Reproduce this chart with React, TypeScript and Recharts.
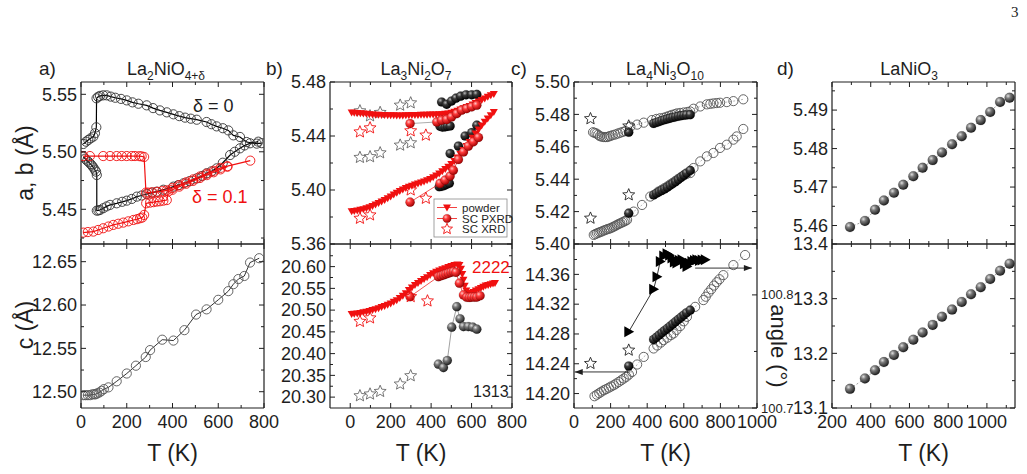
import React from "react";
import { ScatterChart, Scatter, XAxis, YAxis } from "recharts";

// colours
const INK = "#1e1e1e";
const RED = "#f01010";

// ---------- data: [T (K), value] ----------

// a) La2NiO4+d, delta = 0 (black)
const a0Upper = [
  [10, 5.5068], [22, 5.5088], [32, 5.5103], [42, 5.5117], [54, 5.5132], [61, 5.5161], [67, 5.5213],
  [68, 5.5465], [75, 5.5478], [83, 5.5486], [97, 5.5491], [112, 5.5491], [130, 5.548], [150, 5.547],
  [175, 5.546], [200, 5.5447], [225, 5.543], [251, 5.5418], [287, 5.5404], [315, 5.538], [345, 5.536],
  [375, 5.5343], [404, 5.5326], [430, 5.531], [455, 5.5297], [480, 5.5288], [506, 5.5279], [549, 5.5259],
  [570, 5.524], [593, 5.5221], [620, 5.5205], [644, 5.5186], [666, 5.5143], [695, 5.5129], [724, 5.5085],
  [768, 5.5071], [790, 5.5075],
];
const a0Lower = [
  [10, 5.4957], [18, 5.494], [27, 5.4922], [35, 5.4908], [42, 5.4893], [48, 5.488], [54, 5.4864],
  [60, 5.4845], [66, 5.4827], [69, 5.4798], [69, 5.4488], [76, 5.449], [83, 5.4494], [97, 5.4509],
  [112, 5.4525], [127, 5.4538], [156, 5.4552], [180, 5.4565], [200, 5.4575], [222, 5.459], [244, 5.461],
  [265, 5.462], [287, 5.4633], [310, 5.4645], [331, 5.4653], [360, 5.467], [404, 5.4697], [425, 5.471],
  [448, 5.4726], [475, 5.4745], [506, 5.4769], [530, 5.479], [549, 5.4813], [570, 5.483], [593, 5.4856],
  [620, 5.4905], [652, 5.4972], [672, 5.5], [695, 5.503], [715, 5.5055], [739, 5.5074], [775, 5.5088],
];
// a) delta = 0.1 (red)
const a1Upper = [
  [10, 5.4963], [39, 5.4963], [97, 5.4963], [127, 5.4963], [156, 5.4963], [178, 5.4963], [200, 5.4963],
  [222, 5.4963], [236, 5.4963], [255, 5.4962], [265, 5.496], [276, 5.4955], [284, 5.4645], [295, 5.4645],
  [312, 5.4648], [334, 5.4652], [356, 5.4658], [375, 5.4665], [400, 5.4685], [430, 5.471], [460, 5.4735],
  [490, 5.476], [520, 5.4785], [550, 5.481], [580, 5.4835], [610, 5.486], [640, 5.4875], [740, 5.4923],
];
const a1Lower = [
  [10, 5.4297], [30, 5.4302], [54, 5.4306], [75, 5.432], [97, 5.4335], [120, 5.435], [141, 5.4364],
  [163, 5.4374], [185, 5.4384], [207, 5.4395], [229, 5.4407], [245, 5.4414], [258, 5.4422], [268, 5.4428],
  [276, 5.4451], [285, 5.4552], [302, 5.4558], [317, 5.4562], [331, 5.4567], [345, 5.457], [360, 5.4575],
  [375, 5.458], [382, 5.4655], [400, 5.467], [430, 5.4697], [460, 5.4722], [490, 5.4747], [520, 5.4772],
  [550, 5.4797], [580, 5.4822], [610, 5.4847], [640, 5.487],
];
const aC = [
  [10, 12.496], [20, 12.496], [30, 12.496], [40, 12.496], [50, 12.497], [58, 12.497], [64, 12.497],
  [70, 12.498], [80, 12.499], [90, 12.501], [100, 12.503], [120, 12.505], [156, 12.512], [200, 12.521],
  [240, 12.53], [283, 12.54], [302, 12.548], [355, 12.56], [404, 12.559], [452, 12.571], [503, 12.589],
  [549, 12.595], [600, 12.606], [644, 12.616], [666, 12.624], [688, 12.63], [714, 12.6335], [739, 12.649],
  [779, 12.654],
];

// b) La3Ni2O7
const bPowderA = [
  [7, 5.4575], [20, 5.4572], [35, 5.457], [50, 5.4568], [65, 5.4566], [80, 5.4564], [95, 5.4562],
  [110, 5.456], [125, 5.4558], [140, 5.4557], [155, 5.4556], [170, 5.4555], [185, 5.4554], [200, 5.4553],
  [215, 5.4553], [230, 5.4552], [245, 5.4552], [260, 5.4552], [275, 5.4553], [290, 5.4554], [305, 5.4555],
  [320, 5.4555], [335, 5.4556], [350, 5.4557], [365, 5.4557], [380, 5.4558], [395, 5.4559], [410, 5.456],
  [425, 5.456], [440, 5.4561], [455, 5.4562], [470, 5.4564], [485, 5.4567], [500, 5.4572], [515, 5.4579],
  [530, 5.4587], [545, 5.4596], [560, 5.4605], [575, 5.4614], [590, 5.4623], [605, 5.4633], [620, 5.4644],
  [635, 5.4655], [650, 5.4666], [665, 5.4678], [680, 5.469], [695, 5.4701], [710, 5.4712],
];
const bPowderB = [
  [7, 5.3842], [20, 5.3845], [35, 5.3849], [50, 5.3853], [65, 5.3858], [80, 5.3865], [95, 5.3873],
  [110, 5.3882], [125, 5.3892], [140, 5.3903], [155, 5.3914], [170, 5.3926], [185, 5.3939], [200, 5.3952],
  [215, 5.3966], [230, 5.3979], [245, 5.3992], [260, 5.4004], [275, 5.4015], [290, 5.4024], [305, 5.4032],
  [320, 5.404], [335, 5.4048], [350, 5.4055], [365, 5.4063], [380, 5.4072], [395, 5.4082], [410, 5.4094],
  [425, 5.4108], [440, 5.4122], [455, 5.4138], [470, 5.4155], [485, 5.4172], [500, 5.4192], [515, 5.4215],
  [530, 5.424], [545, 5.4267], [560, 5.4296], [575, 5.4326], [590, 5.4356], [605, 5.4387], [620, 5.4418],
  [635, 5.4449], [650, 5.4478], [665, 5.4505], [680, 5.4529], [695, 5.4553], [710, 5.4577],
];
const bPowderC = [
  [7, 20.491], [20, 20.4915], [35, 20.4925], [50, 20.4935], [65, 20.495], [80, 20.4965], [95, 20.498],
  [110, 20.5], [125, 20.502], [140, 20.5045], [155, 20.507], [170, 20.5095], [185, 20.5125], [200, 20.5155],
  [215, 20.519], [230, 20.5225], [245, 20.528], [260, 20.533], [275, 20.5385], [290, 20.546], [305, 20.552],
  [320, 20.5575], [335, 20.5625], [350, 20.567], [365, 20.5715], [380, 20.5755], [395, 20.5805],
  [410, 20.5845], [425, 20.588], [440, 20.591], [455, 20.594], [470, 20.5965], [485, 20.599], [500, 20.6015],
  [515, 20.6035], [530, 20.605], [540, 20.604], [548, 20.595], [554, 20.583], [560, 20.57], [566, 20.556],
  [574, 20.545], [584, 20.539], [597, 20.5395], [609, 20.5415], [621, 20.545], [634, 20.548], [646, 20.551],
  [658, 20.554], [670, 20.5565], [682, 20.558], [694, 20.5595], [706, 20.561], [716, 20.5625],
];
const bPxrdA = [
  [296, 5.4492], [428, 5.4504], [452, 5.4517], [477, 5.4522], [501, 5.4541], [527, 5.4566], [551, 5.4591],
  [576, 5.4603], [601, 5.4616], [626, 5.4628],
];
const bPxrdB = [
  [296, 5.391], [444, 5.4049], [469, 5.4073], [494, 5.4103], [510, 5.4147], [535, 5.4226], [560, 5.4282],
  [584, 5.4325], [609, 5.4357], [634, 5.4389],
];
const bPxrdC = [
  [296, 20.531], [436, 20.577], [449, 20.579], [461, 20.581], [473, 20.583], [485, 20.585], [498, 20.587],
  [510, 20.5885], [523, 20.587], [540, 20.562], [560, 20.535], [576, 20.5297], [589, 20.529], [601, 20.53],
  [614, 20.53], [626, 20.53], [642, 20.533],
];
const bBlackA = [
  [452, 5.4652], [477, 5.4635], [501, 5.4659], [523, 5.468], [546, 5.4695], [573, 5.4705], [601, 5.4705],
  [626, 5.4708], [444, 5.4472], [456, 5.4466], [469, 5.4468], [481, 5.4472], [494, 5.4474],
];
const bBlackB = [
  [440, 5.4024], [452, 5.4027], [465, 5.4033], [477, 5.4042], [490, 5.405], [494, 5.427], [535, 5.4325],
  [568, 5.44], [601, 5.4425], [626, 5.448],
];
const bBlackC = [
  [436, 20.3757], [461, 20.368], [480, 20.384], [502, 20.4608], [527, 20.508], [543, 20.48], [560, 20.4622],
  [584, 20.4622], [606, 20.4608], [626, 20.4562],
];
const bStarRedA = [[48, 5.443], [98, 5.446], [299, 5.4438], [374, 5.4406]];
const bStarRedB = [[48, 5.379], [98, 5.3815], [299, 5.4], [374, 5.3938]];
const bStarGrayA = [[48, 5.4586], [98, 5.4549], [148, 5.4574], [247, 5.4628], [299, 5.4645]];
const bStarGrayB = [[48, 5.4241], [98, 5.4246], [148, 5.4275], [247, 5.4332], [299, 5.4349]];
const bStarRedC = [[48, 20.474], [98, 20.482], [299, 20.531], [382, 20.521]];
const bStarGrayC = [[48, 20.303], [98, 20.307], [148, 20.313], [247, 20.33], [299, 20.349]];

// c) La4Ni3O10
const cOpenA = [
  [104, 5.469], [113, 5.4686], [123, 5.4682], [132, 5.4674], [141, 5.4666], [152, 5.4662], [163, 5.466],
  [172, 5.466], [181, 5.466], [190, 5.4664], [199, 5.4667], [212, 5.4672], [226, 5.4676], [240, 5.4682],
  [253, 5.4687], [267, 5.4692], [281, 5.4697], [308, 5.4724], [345, 5.4737], [381, 5.4749], [426, 5.4765],
  [450, 5.4772], [470, 5.4776], [490, 5.4779], [505, 5.4785], [520, 5.4791], [535, 5.4797], [550, 5.4801],
  [562, 5.4806], [580, 5.4809], [600, 5.4812], [620, 5.4815], [635, 5.4818], [653, 5.4835], [690, 5.4849],
  [726, 5.4862], [745, 5.4865], [762, 5.4868], [780, 5.487], [798, 5.4872], [835, 5.4876], [871, 5.4882],
  [925, 5.4893],
];
const cOpenB = [
  [108, 5.4056], [117, 5.4061], [126, 5.4066], [135, 5.407], [144, 5.4074], [153, 5.4078], [163, 5.4083],
  [172, 5.4087], [181, 5.4091], [190, 5.4094], [199, 5.4097], [208, 5.4102], [217, 5.4107], [226, 5.4112],
  [235, 5.4118], [244, 5.4123], [253, 5.4128], [263, 5.4133], [272, 5.4138], [281, 5.4143], [290, 5.4149],
  [326, 5.42], [372, 5.4241], [417, 5.4293], [462, 5.4324], [480, 5.4335], [495, 5.4345], [510, 5.4355],
  [525, 5.4367], [540, 5.4378], [555, 5.439], [570, 5.4402], [585, 5.4413], [600, 5.4424], [615, 5.4432],
  [635, 5.4438], [653, 5.4469], [690, 5.451], [726, 5.4541], [762, 5.4562], [798, 5.4593], [835, 5.4613],
  [871, 5.4644], [889, 5.4664], [925, 5.471],
];
const cSphA = [
  [299, 5.469], [435, 5.4744], [450, 5.475], [465, 5.4756], [480, 5.4762], [495, 5.4767], [510, 5.4772],
  [525, 5.4777], [540, 5.4781], [555, 5.4785], [570, 5.4789], [585, 5.4792], [600, 5.4795], [615, 5.4797],
  [635, 5.4798],
];
const cSphB = [
  [299, 5.419], [435, 5.4303], [450, 5.4313], [465, 5.4322], [480, 5.4331], [495, 5.434], [510, 5.4351],
  [525, 5.4362], [540, 5.4373], [555, 5.4385], [570, 5.4398], [585, 5.4412], [600, 5.4425], [615, 5.4438],
  [635, 5.4454],
];
const cStarA = [[90, 5.4773], [299, 5.4728]];
const cStarB = [[90, 5.4159], [299, 5.4303]];
const cOpenC = [
  [112, 14.1964], [125, 14.1985], [138, 14.2005], [150, 14.2025], [163, 14.2044], [176, 14.206],
  [190, 14.2078], [203, 14.2095], [217, 14.2112], [230, 14.2133], [244, 14.2155], [258, 14.2178],
  [272, 14.2202], [286, 14.2225], [300, 14.2255], [317, 14.229], [345, 14.239], [381, 14.2492],
  [435, 14.2605], [455, 14.2645], [475, 14.2685], [490, 14.2717], [510, 14.275], [530, 14.2785],
  [544, 14.2807], [560, 14.2855], [580, 14.2905], [600, 14.297], [617, 14.303], [662, 14.3164],
  [707, 14.3255], [720, 14.33], [735, 14.3355], [750, 14.34], [765, 14.345], [780, 14.3495], [795, 14.3535],
  [816, 14.359], [871, 14.3725], [935, 14.386],
];
const cSphC = [
  [299, 14.237], [435, 14.2725], [450, 14.2755], [465, 14.2785], [480, 14.2815], [495, 14.2845],
  [510, 14.2875], [525, 14.2905], [540, 14.2935], [555, 14.2965], [570, 14.2995], [585, 14.3025],
  [600, 14.3055], [615, 14.3085], [635, 14.312],
];
const cStarC = [[90, 14.2403], [299, 14.2582]];
const cAngle = [
  [299, 100.7674], [435, 100.805], [453, 100.816], [471, 100.8296], [490, 100.8345], [508, 100.8364],
  [522, 100.835], [535, 100.8326], [548, 100.829], [562, 100.8282], [576, 100.8305], [590, 100.831],
  [603, 100.8275], [617, 100.8252], [630, 100.828], [644, 100.8296], [658, 100.8305], [671, 100.8311],
  [685, 100.8305], [700, 100.8308], [717, 100.8311],
];
const cArrowLeft = [[308, 14.229], [4, 14.229]];
const cArrowRight = [[662, 100.8237], [972, 100.8237]];

// d) LaNiO3
const dA = [
  [293, 5.4596], [370, 5.4612], [422, 5.4641], [468, 5.4665], [520, 5.4685], [568, 5.4706], [620, 5.4728],
  [668, 5.475], [720, 5.477], [768, 5.479], [820, 5.4811], [870, 5.4832], [918, 5.4854], [968, 5.4874],
  [1017, 5.4895], [1068, 5.4921], [1117, 5.4932],
];
const dC = [
  [293, 13.135], [370, 13.154], [422, 13.169], [468, 13.184], [520, 13.197], [568, 13.211], [620, 13.225],
  [668, 13.238], [720, 13.252], [768, 13.267], [820, 13.28], [870, 13.294], [918, 13.308], [968, 13.321],
  [1017, 13.336], [1068, 13.351], [1117, 13.364],
];

// ---------- ticks ----------
const aXTicks = [0, 100, 200, 300, 400, 500, 600, 700, 800];
const bXTicks = [0, 100, 200, 300, 400, 500, 600, 700, 800];
const cXTicks = [0, 100, 200, 300, 400, 500, 600, 700, 800, 900, 1000];
const dXTicks = [200, 300, 400, 500, 600, 700, 800, 900, 1000, 1100];
const aTopTicks = [5.425, 5.45, 5.475, 5.5, 5.525, 5.55];
const aBotTicks = [12.5, 12.525, 12.55, 12.575, 12.6, 12.625, 12.65];
const bTopTicks = [5.36, 5.38, 5.4, 5.42, 5.44, 5.46, 5.48];
const bBotTicks = [20.3, 20.325, 20.35, 20.375, 20.4, 20.425, 20.45, 20.475, 20.5, 20.525, 20.55, 20.575, 20.6, 20.625];
const cTopTicks = [5.4, 5.41, 5.42, 5.43, 5.44, 5.45, 5.46, 5.47, 5.48, 5.49, 5.5];
const cBotTicks = [14.2, 14.22, 14.24, 14.26, 14.28, 14.3, 14.32, 14.34, 14.36, 14.38];
const cAngleTicks = [100.7, 100.75, 100.8];
const dTopTicks = [5.46, 5.465, 5.47, 5.475, 5.48, 5.485, 5.49, 5.495];
const dBotTicks = [13.1, 13.15, 13.2, 13.25, 13.3, 13.35, 13.4];

// titles: [text, subscript?]
const titleA: [string, boolean][] = [["La", false], ["2", true], ["NiO", false], ["4+δ", true]];
const titleB: [string, boolean][] = [["La", false], ["3", true], ["Ni", false], ["2", true], ["O", false], ["7", true]];
const titleC: [string, boolean][] = [["La", false], ["4", true], ["Ni", false], ["3", true], ["O", false], ["10", true]];
const titleD: [string, boolean][] = [["LaNiO", false], ["3", true]];

const pts = (a: number[][]) => a.map(([t, v]) => ({ t, v }));

// ---------- frame geometry ----------
const COLS = { a: [81, 264], b: [330, 512], c: [574, 757], d: [832, 1015] };
const TOP = [82, 244];
const BOT = [244, 408];
const PAD = 60;
const AX = 1; // axis box thickness (recharts skips axes of size 0)

const isMajor = (v: number, step: number) => Math.abs(v / step - Math.round(v / step)) < 1e-4;

const xTick = (side: "top" | "bottom", step: number, labels: boolean) => (p: any) => {
  const { x, y, payload } = p;
  const major = isMajor(payload.value, step);
  const len = major ? 5 : 3;
  const d = side === "bottom" ? -1 : 1;
  return (
    <g>
      <line x1={x} x2={x} y1={y} y2={y + d * len} stroke={INK} strokeWidth={1} />
      {labels && major && (
        <text x={x} y={y + 20} textAnchor="middle" fontSize={18} fill={INK}>
          {String(payload.value)}
        </text>
      )}
    </g>
  );
};

const yTick = (side: "left" | "right", step: number, digits: number, labels: boolean, fs = 18) => (p: any) => {
  const { x, y, payload } = p;
  const major = isMajor(payload.value, step);
  const len = major ? 5 : 3;
  const d = side === "left" ? 1 : -1;
  return (
    <g>
      <line x1={x} x2={x + d * len} y1={y} y2={y} stroke={INK} strokeWidth={1} />
      {labels && major && (
        <text x={x - d * 4} y={y} dy="0.35em" textAnchor={side === "left" ? "end" : "start"} fontSize={fs} fill={INK}>
          {payload.value.toFixed(digits)}
        </text>
      )}
    </g>
  );
};

// ---------- markers ----------
type Dot = { cx?: number; cy?: number };
const ring = (color: string, r = 4.6) => (p: Dot) => (
  <circle cx={p.cx} cy={p.cy} r={r} fill="none" stroke={color} strokeWidth={0.9} />
);
const ball = (grad: string, r = 4.6) => (p: Dot) => (
  <circle cx={p.cx} cy={p.cy} r={r} fill={`url(#${grad})`} stroke="rgba(0,0,0,0.3)" strokeWidth={0.4} />
);
const starPoints = (cx: number, cy: number, R: number) => {
  const out: string[] = [];
  for (let i = 0; i < 10; i++) {
    const rr = i % 2 ? R * 0.45 : R;
    const a = -Math.PI / 2 + (i * Math.PI) / 5;
    out.push(`${cx + rr * Math.cos(a)},${cy + rr * Math.sin(a)}`);
  }
  return out.join(" ");
};
const star = (color: string, R = 6.3) => (p: Dot) => (
  <polygon points={starPoints(p.cx || 0, p.cy || 0, R)} fill="none" stroke={color} strokeWidth={0.9} />
);
const triDown = (color: string, s = 4) => (p: Dot) => {
  const cx = p.cx || 0, cy = p.cy || 0;
  return <polygon points={`${cx - s},${cy - s * 0.75} ${cx + s},${cy - s * 0.75} ${cx},${cy + s}`} fill={color} />;
};
const triRight = (color: string, s = 5.5) => (p: Dot) => {
  const cx = p.cx || 0, cy = p.cy || 0;
  return <polygon points={`${cx - s * 0.8},${cy - s} ${cx - s * 0.8},${cy + s} ${cx + s},${cy}`} fill={color} />;
};
const headLeft = (p: Dot) => {
  const cx = p.cx || 0, cy = p.cy || 0;
  return <polygon points={`${cx},${cy} ${cx + 8},${cy - 3} ${cx + 8},${cy + 3}`} fill={INK} />;
};
const headRight = (p: Dot) => {
  const cx = p.cx || 0, cy = p.cy || 0;
  return <polygon points={`${cx},${cy} ${cx - 8},${cy - 3} ${cx - 8},${cy + 3}`} fill={INK} />;
};
const none = () => <g />;

type PanelProps = {
  col: number[];
  row: number[];
  xDomain: [number, number];
  xTicks: number[];
  xLabels: boolean;
  yDomain: [number, number];
  yTicks: number[];
  yStep: number;
  yDigits: number;
  rDomain?: [number, number];
  rTicks?: number[];
  children?: React.ReactNode;
};

function Panel({ col, row, xDomain, xTicks, xLabels, yDomain, yTicks, yStep, yDigits, rDomain, rTicks, children }: PanelProps) {
  const w = col[1] - col[0];
  const h = row[1] - row[0];
  const frame = { stroke: INK, strokeWidth: 1.2 };
  const m = PAD - AX;
  return (
    <div style={{ position: "absolute", left: col[0] - PAD, top: row[0] - PAD }}>
      <ScatterChart width={w + 2 * PAD} height={h + 2 * PAD} margin={{ top: m, right: m, bottom: m, left: m }}>
        <XAxis type="number" dataKey="t" domain={xDomain} ticks={xTicks} interval={0} allowDataOverflow
          height={AX} tickSize={0} tickMargin={0} tickLine={false} axisLine={frame} tick={xTick("bottom", 200, xLabels)} />
        <XAxis xAxisId="top" orientation="top" type="number" dataKey="t" domain={xDomain} ticks={xTicks} interval={0}
          allowDataOverflow height={AX} tickSize={0} tickMargin={0} tickLine={false} axisLine={frame} tick={xTick("top", 200, false)} />
        <YAxis type="number" dataKey="v" domain={yDomain} ticks={yTicks} interval={0} allowDataOverflow
          width={AX} tickSize={0} tickMargin={0} tickLine={false} axisLine={frame} tick={yTick("left", yStep, yDigits, true)} />
        <YAxis yAxisId="r" orientation="right" type="number" dataKey="v" domain={rDomain || yDomain}
          ticks={rTicks || yTicks} interval={0} allowDataOverflow width={AX} tickSize={0} tickMargin={0} tickLine={false}
          axisLine={frame} tick={rDomain ? yTick("right", 0.1, 1, true, 13) : yTick("right", yStep, yDigits, false)} />
        {children}
      </ScatterChart>
    </div>
  );
}

const thin = (c: string, w = 0.8, dash?: string) => ({ stroke: c, strokeWidth: w, strokeDasharray: dash });

const Title = ({ x, segs }: { x: number; segs: [string, boolean][] }) => (
  <text x={x} y={75} fontSize={18} fill={INK} textAnchor="middle">
    {segs.map(([s, isSub], i) => {
      const prevSub = i > 0 && segs[i - 1][1];
      const dy = isSub && !prevSub ? 5 : !isSub && prevSub ? -5 : 0;
      return (
        <tspan key={i} dy={dy} fontSize={isSub ? 12 : 18}>
          {s}
        </tspan>
      );
    })}
  </text>
);

export default function App() {
  return (
    <div style={{ position: "absolute", left: 0, top: 0, width: 1027, height: 474, background: "#fff", fontFamily: "'Liberation Sans', Arial, sans-serif" }}>
      <svg width={0} height={0} style={{ position: "absolute" }}>
        <defs>
          <radialGradient id="gGray" cx="35%" cy="32%" r="70%">
            <stop offset="0%" stopColor="#e0e0e0" />
            <stop offset="35%" stopColor="#7a7a7a" />
            <stop offset="100%" stopColor="#1c1c1c" />
          </radialGradient>
          <radialGradient id="gBlack" cx="35%" cy="32%" r="70%">
            <stop offset="0%" stopColor="#b8b8b8" />
            <stop offset="35%" stopColor="#3a3a3a" />
            <stop offset="100%" stopColor="#000" />
          </radialGradient>
          <radialGradient id="gRed" cx="35%" cy="32%" r="70%">
            <stop offset="0%" stopColor="#ffc4c4" />
            <stop offset="35%" stopColor="#ff3b3b" />
            <stop offset="100%" stopColor="#a00000" />
          </radialGradient>
        </defs>
      </svg>

      {/* a) */}
      <Panel col={COLS.a} row={TOP} xDomain={[0, 800]} xTicks={aXTicks} xLabels={false}
        yDomain={[5.4198, 5.5607]} yTicks={aTopTicks} yStep={0.05} yDigits={2}>
        <Scatter data={pts(a0Upper)} line={thin("#000", 1.2)} shape={ring("#333")} isAnimationActive={false} />
        <Scatter data={pts(a0Lower)} line={thin("#000", 1.2)} shape={ring("#333")} isAnimationActive={false} />
        <Scatter data={pts(a1Upper)} line={thin(RED, 1.2)} shape={ring(RED)} isAnimationActive={false} />
        <Scatter data={pts(a1Lower)} line={thin(RED, 1.2)} shape={ring(RED)} isAnimationActive={false} />
      </Panel>
      <Panel col={COLS.a} row={BOT} xDomain={[0, 800]} xTicks={aXTicks} xLabels={true}
        yDomain={[12.4812, 12.6704]} yTicks={aBotTicks} yStep={0.05} yDigits={2}>
        <Scatter data={pts(aC)} line={thin("#000", 0.8)} shape={ring("#555")} isAnimationActive={false} />
      </Panel>

      {/* b) */}
      <Panel col={COLS.b} row={TOP} xDomain={[-100, 800]} xTicks={bXTicks} xLabels={false}
        yDomain={[5.36, 5.48]} yTicks={bTopTicks} yStep={0.04} yDigits={2}>
        <Scatter data={pts(bStarGrayA)} shape={star("#666")} isAnimationActive={false} />
        <Scatter data={pts(bStarGrayB)} shape={star("#666")} isAnimationActive={false} />
        <Scatter data={pts(bBlackA)} shape={ball("gBlack")} isAnimationActive={false} />
        <Scatter data={pts(bBlackB)} shape={ball("gBlack")} isAnimationActive={false} />
        <Scatter data={pts(bPowderA)} line={thin(RED, 0.8)} shape={triDown(RED)} isAnimationActive={false} />
        <Scatter data={pts(bPowderB)} line={thin(RED, 0.8)} shape={triDown(RED)} isAnimationActive={false} />
        <Scatter data={pts(bPxrdA)} line={thin("#888", 0.7)} shape={ball("gRed")} isAnimationActive={false} />
        <Scatter data={pts(bPxrdB)} line={thin(RED, 0.7)} shape={ball("gRed")} isAnimationActive={false} />
        <Scatter data={pts(bStarRedA)} shape={star(RED)} isAnimationActive={false} />
        <Scatter data={pts(bStarRedB)} shape={star(RED)} isAnimationActive={false} />
      </Panel>
      <Panel col={COLS.b} row={BOT} xDomain={[-100, 800]} xTicks={bXTicks} xLabels={true}
        yDomain={[20.275, 20.652]} yTicks={bBotTicks} yStep={0.05} yDigits={2}>
        <Scatter data={pts(bStarGrayC)} shape={star("#666")} isAnimationActive={false} />
        <Scatter data={pts(bBlackC)} line={thin("#777", 0.7)} shape={ball("gGray")} isAnimationActive={false} />
        <Scatter data={pts(bPowderC)} line={thin(RED, 0.8)} shape={triDown(RED)} isAnimationActive={false} />
        <Scatter data={pts(bPxrdC)} line={thin(RED, 0.7)} shape={ball("gRed")} isAnimationActive={false} />
        <Scatter data={pts(bStarRedC)} shape={star(RED)} isAnimationActive={false} />
      </Panel>

      {/* c) */}
      <Panel col={COLS.c} row={TOP} xDomain={[0, 1000]} xTicks={cXTicks} xLabels={false}
        yDomain={[5.4, 5.5]} yTicks={cTopTicks} yStep={0.02} yDigits={2}>
        <Scatter data={pts(cOpenA)} line={thin("#888", 0.6, "2 2")} shape={ring("#555")} isAnimationActive={false} />
        <Scatter data={pts(cOpenB)} line={thin("#888", 0.6, "2 2")} shape={ring("#555")} isAnimationActive={false} />
        <Scatter data={pts(cSphA)} shape={ball("gBlack")} isAnimationActive={false} />
        <Scatter data={pts(cSphB)} shape={ball("gBlack")} isAnimationActive={false} />
        <Scatter data={pts(cStarA)} shape={star("#222")} isAnimationActive={false} />
        <Scatter data={pts(cStarB)} shape={star("#222")} isAnimationActive={false} />
      </Panel>
      <Panel col={COLS.c} row={BOT} xDomain={[0, 1000]} xTicks={cXTicks} xLabels={true}
        yDomain={[14.1806, 14.4008]} yTicks={cBotTicks} yStep={0.04} yDigits={2}
        rDomain={[100.7, 100.845]} rTicks={cAngleTicks}>
        <Scatter data={pts(cOpenC)} line={thin("#888", 0.6, "2 2")} shape={ring("#555")} isAnimationActive={false} />
        <Scatter data={pts(cSphC)} shape={ball("gBlack")} isAnimationActive={false} />
        <Scatter data={pts(cStarC)} shape={star("#222")} isAnimationActive={false} />
        <Scatter data={pts(cArrowLeft)} line={thin(INK, 0.9)} shape={none} isAnimationActive={false} />
        <Scatter data={pts(cArrowLeft.slice(1))} shape={headLeft} isAnimationActive={false} />
        <Scatter yAxisId="r" data={pts(cAngle)} line={thin("#000", 0.8)} shape={triRight("#000")} isAnimationActive={false} />
        <Scatter yAxisId="r" data={pts(cArrowRight)} line={thin(INK, 0.9)} shape={none} isAnimationActive={false} />
        <Scatter yAxisId="r" data={pts(cArrowRight.slice(1))} shape={headRight} isAnimationActive={false} />
      </Panel>

      {/* d) */}
      <Panel col={COLS.d} row={TOP} xDomain={[200, 1145]} xTicks={dXTicks} xLabels={false}
        yDomain={[5.4552, 5.4973]} yTicks={dTopTicks} yStep={0.01} yDigits={2}>
        <Scatter data={pts(dA)} line={thin("#777", 0.7, "2 2")} shape={ball("gGray", 5)} isAnimationActive={false} />
      </Panel>
      <Panel col={COLS.d} row={BOT} xDomain={[200, 1145]} xTicks={dXTicks} xLabels={true}
        yDomain={[13.1, 13.4]} yTicks={dBotTicks} yStep={0.1} yDigits={1}>
        <Scatter data={pts(dC)} line={thin("#777", 0.7, "2 2")} shape={ball("gGray", 5)} isAnimationActive={false} />
      </Panel>

      {/* text overlay */}
      <svg width={1027} height={474} style={{ position: "absolute", left: 0, top: 0, pointerEvents: "none" }}>
        <text x={1011} y={17} fontSize={15} fontFamily="'Liberation Serif', serif" fill="#222">3</text>

        <g fontSize={19} fill={INK}>
          <text x={39} y={75}>a)</text>
          <text x={266} y={75}>b)</text>
          <text x={511} y={75}>c)</text>
          <text x={777} y={75}>d)</text>
        </g>

        <Title x={166} segs={titleA} />
        <Title x={416} segs={titleB} />
        <Title x={665} segs={titleC} />
        <Title x={909} segs={titleD} />

        <g fontSize={23} fill={INK} textAnchor="middle">
          <text transform="translate(33,163) rotate(-90)">a, b (Å)</text>
          <text transform="translate(33,325) rotate(-90)">c (Å)</text>
          <text transform="translate(771,346) rotate(90)" fontSize={22}>angle (°)</text>
          <text x={172.5} y={461}>T (K)</text>
          <text x={421} y={461}>T (K)</text>
          <text x={665.5} y={461}>T (K)</text>
          <text x={923.5} y={461}>T (K)</text>
        </g>

        <text x={193} y={112} fontSize={18} fill={INK}>δ = 0</text>
        <text x={192} y={203} fontSize={18} fill={RED}>δ = 0.1</text>
        <text x={472} y={273} fontSize={17} fill={RED}>2222</text>
        <text x={473} y={397} fontSize={16} fill={INK}>1313</text>

        {/* legend of panel b */}
        <rect x={434} y={199} width={73} height={38} fill="#fff" stroke="#8a8a8a" strokeWidth={0.8} />
        <line x1={437} x2={457} y1={207.5} y2={207.5} stroke={RED} strokeWidth={0.8} />
        {triDown(RED)({ cx: 447, cy: 207.5 })}
        <line x1={437} x2={457} y1={218.5} y2={218.5} stroke={RED} strokeWidth={0.8} />
        {ball("gRed", 4.3)({ cx: 447, cy: 218.5 })}
        {star(RED, 5.8)({ cx: 447, cy: 229 })}
        <g fontSize={11.5} fill={INK}>
          <text x={462} y={207.5} dy="0.35em">powder</text>
          <text x={462} y={218.5} dy="0.35em">SC PXRD</text>
          <text x={462} y={229} dy="0.35em">SC XRD</text>
        </g>
      </svg>
    </div>
  );
}
